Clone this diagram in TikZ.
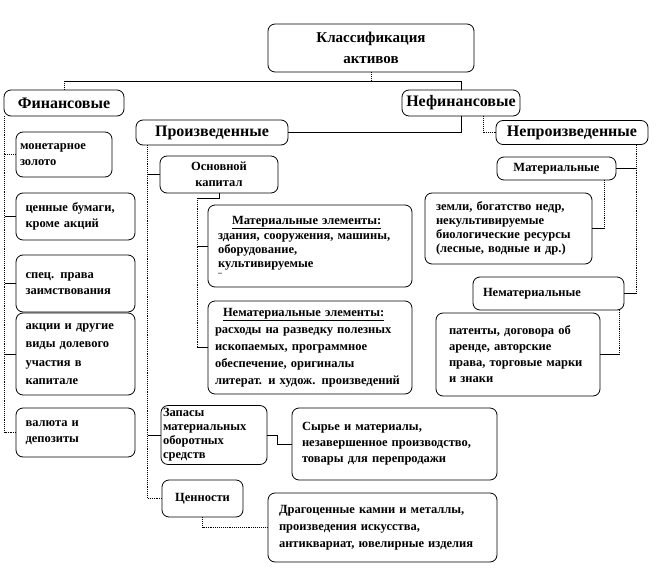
\documentclass[tikz,border=0pt]{standalone}
\usepackage{fontspec}
\setmainfont{Liberation Serif}
\tikzset{box/.style={draw, rounded corners=7pt, line width=0.8pt, inner sep=3pt, font=\bfseries\fontsize{12.5}{16}\selectfont},
  head/.style={box, font=\bfseries\fontsize{16}{18}\selectfont},
  tight/.style={font=\bfseries\fontsize{12.5}{14}\selectfont},
  link/.style={line width=0.8pt},
  dotlink/.style={line width=0.9pt, densely dotted}}

\begin{document}
\begin{tikzpicture}[x=1pt, y=-1pt]
\useasboundingbox (0,0) rectangle (662,576);
% Niveaux du haut
\node[box, minimum width=206pt, minimum height=48pt, align=center, font=\bfseries\fontsize{15}{21}\selectfont] (title) at (371,48) {Классификация\\активов};
\node[head, minimum width=120pt, minimum height=26pt] (fin) at (64,103) {Финансовые};
\node[head, minimum width=118pt, minimum height=26pt] (nefin) at (461,103) {Нефинансовые};
\node[head, minimum width=152pt, minimum height=25pt] (proizv) at (212,132.5) {Произведенные};
\node[head, minimum width=152pt, minimum height=24pt] (neproizv) at (572,132.5) {Непроизведенные};
% Financiers
\node[box, minimum width=96pt, minimum height=45pt, text width=88pt, align=left] (gold) at (64,154.5) {монетарное\\золото};
\node[box, minimum width=119pt, minimum height=47pt, text width=100pt, align=left] (bonds) at (75.5,216.5) {ценные бумаги,\\кроме акций};
\node[box, minimum width=119pt, minimum height=57pt, text width=100pt, align=left] (sdr) at (75.5,283.5) {спец. права\\заимствования};
\node[box, minimum width=119pt, minimum height=82pt, text width=100pt, align=left, font=\bfseries\fontsize{12.5}{18.5}\selectfont] (shares) at (75.5,354) {акции и другие\\виды долевого\\участия в\\капитале};
\node[box, minimum width=119pt, minimum height=49pt, text width=100pt, align=left] (cash) at (75.5,432.5) {валюта и\\депозиты};
% Produits
\node[box, minimum width=118pt, minimum height=37pt, align=center] (osnkap) at (219,174.5) {Основной\\капитал};
\node[box, minimum width=204pt, minimum height=82pt, text width=184pt, align=left, tight] (matel) at (310,246) {\hspace*{14pt}\underline{Материальные элементы:}\\[1pt]здания,  сооружения, машины,\\оборудование,\\культивируемые\\[-6pt]{\fontsize{8}{8}\selectfont –}};
\node[box, minimum width=204pt, minimum height=93pt, text width=190pt, align=left, font=\bfseries\fontsize{12.5}{17}\selectfont] (nematel) at (310,347.5) {\hspace*{8pt}\underline{Нематериальные элементы:}\\расходы на разведку полезных\\ископаемых, программное\\обеспечение, оригиналы\\литерат.  и худож.  произведений};
\node[box, minimum width=106pt, minimum height=56pt, text width=102pt, inner xsep=2pt, align=left, tight] (zapasy) at (214,435) {Запасы\\материальных\\оборотных\\средств};
\node[box, minimum width=205pt, minimum height=72pt, text width=185pt, align=left] (syrye) at (394.5,444) {Сырье и материалы,\\незавершенное производство,\\товары для перепродажи};
\node[box, minimum width=81pt, minimum height=37pt] (tsen) at (202.5,498.5) {Ценности};
\node[box, minimum width=229pt, minimum height=69pt, text width=207pt, align=left, font=\bfseries\fontsize{12.5}{17}\selectfont] (dragoc) at (382.5,527.5) {Драгоценные камни и металлы,\\произведения искусства,\\антиквариат,  ювелирные изделия};
% Non produits
\node[box, minimum width=119pt, minimum height=23pt] (mat) at (556.5,168.5) {Материальные};
\node[box, minimum width=167pt, minimum height=71pt, text width=145pt, align=left, tight] (zemli) at (508.5,228.5) {земли, богатство  недр,\\некультивируемые\\биологические ресурсы\\(лесные, водные и др.)};
\node[box, minimum width=151pt, minimum height=33pt, text width=131pt, align=left] (nemat) at (548.5,293.5) {Нематериальные};
\node[box, minimum width=164pt, minimum height=83pt, text width=138pt, align=left] (patents) at (518,354.5) {патенты, договора об\\аренде, авторские\\права, торговые марки\\и знаки};

% Liaisons du haut
\coordinate (top) at (371,81);
\draw[dotlink] (title.south) -- (top);
\draw[link] (fin.north |- top) -- (nefin.north |- top);
\draw[dotlink] (fin.north |- top) -- (fin.north);
\draw[link] (nefin.north |- top) -- (nefin.north);
\draw[link] (nefin.south) |- (proizv.east);
\draw[dotlink] ([xshift=22pt]nefin.south) |- (neproizv.west);
% Liaisons financiers
\coordinate (finspine) at ([xshift=1pt]fin.south west);
\draw[dotlink] (finspine) |- (cash.west);
\draw[dotlink] (gold.west) -- (gold.west -| finspine);
\foreach \n in {bonds,sdr,shares}
  \draw[link] (\n.west) -- (\n.west -| finspine);
% Liaisons produits
\coordinate (prspine) at ([xshift=12pt]proizv.south west);
\draw[dotlink] (prspine) |- (tsen.west);
\draw[link] (osnkap.west) -- (osnkap.west -| prspine);
\draw[link] (zapasy.west) -- (zapasy.west -| prspine);
\coordinate (osnspine) at (197,198);
\draw[link] (osnkap.south) |- (osnspine);
\draw[dotlink] (osnspine) -- (osnspine |- nematel.west);
\draw[link] (osnspine |- nematel.west) -- (nematel.west);
\draw[link] (matel.west) -- (matel.west -| osnspine);
\draw[link] (zapasy.east) -- ++(10,0) |- (syrye.west);
\draw[dotlink] (tsen.south) |- (dragoc.west);
% Liaisons non produits
\coordinate (npspine) at ([xshift=-12pt]neproizv.south east);
\draw[dotlink] (npspine) -- (npspine |- nemat.east);
\draw[link] (mat.east) -- (mat.east -| npspine);
\draw[link] (nemat.east) -- (nemat.east -| npspine);
\coordinate (matdrop) at ([xshift=-12pt]mat.south east);
\draw[dotlink] (matdrop) -- (matdrop |- zemli.east);
\draw[link] (matdrop |- zemli.east) -- (zemli.east);
\coordinate (nemdrop) at ([xshift=-5pt]nemat.south east);
\draw[dotlink] (nemdrop) -- (nemdrop |- patents.east);
\draw[link] (nemdrop |- patents.east) -- (patents.east);
\end{tikzpicture}
\end{document}
